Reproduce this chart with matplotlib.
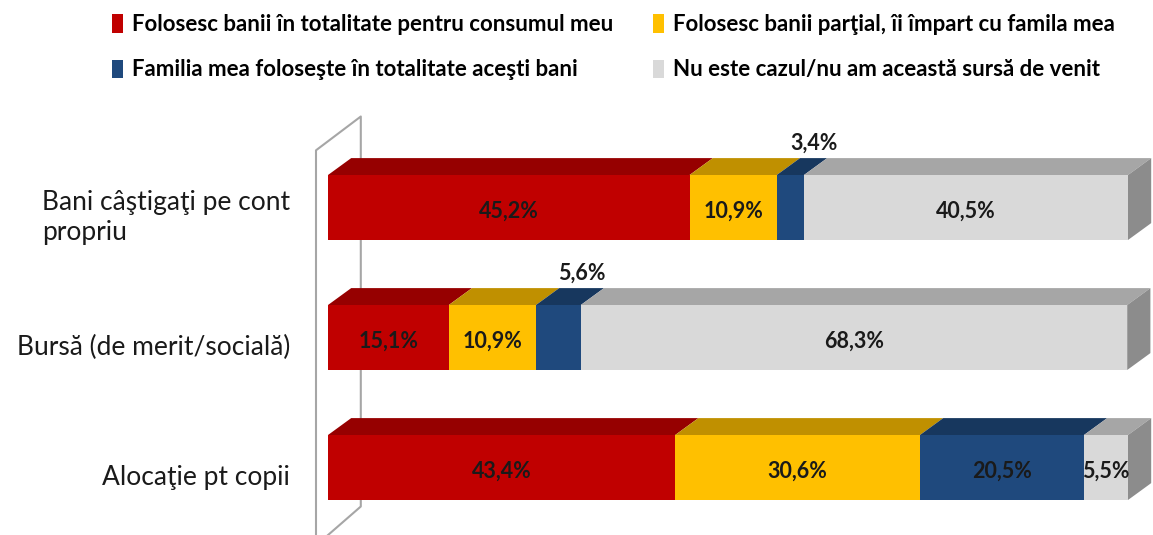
import numpy as np
import matplotlib.pyplot as plt
from matplotlib.patches import Polygon, Patch

plt.rcParams['font.family'] = ['Lato', 'DejaVu Sans']

categories = ["Bani câştigaţi pe cont\npropriu", "Bursă (de merit/socială)", "Alocaţie pt copii"]
series = [
    "Folosesc banii în totalitate pentru consumul meu",
    "Folosesc banii parţial, îi împart cu famila mea",
    "Familia mea foloseşte în totalitate aceşti bani",
    "Nu este cazul/nu am această sursă de venit",
]
consum_propriu = [45.2, 15.1, 43.4]
partial = [10.9, 10.9, 30.6]
familia = [3.4, 5.6, 20.5]
nu_este = [40.5, 68.3, 5.5]

front = ["#C00000", "#FFC000", "#1F497D", "#D9D9D9"]
top = ["#960000", "#C09000", "#17375E", "#A6A6A6"]
side = "#8C8C8C"

W, H = 1153, 535
fig = plt.figure(figsize=(W / 100, H / 100), dpi=100)
ax = fig.add_axes([0, 0, 1, 1])
# 8 px per percent, bar rows 130 px apart, first row centred at y=207.5 px
ax.set_xlim(-328 / 8, (W - 328) / 8)
ax.set_ylim((H - 207.5) / 130, -207.5 / 130)
ax.axis("off")

bar_h = 0.5
dx, dy = 2.9, 0.13   # depth of the 3d look, in data units

# back wall
wall_x0, wall_x1 = -1.5, 4.1
ax.plot([wall_x0, wall_x0, wall_x1, wall_x1, wall_x0],
        [2.6, -0.44, -0.70, 2.30, 2.6], color="#A6A6A6", lw=1.5, zorder=1)

values = [consum_propriu, partial, familia, nu_este]
y = np.arange(len(categories))
left = np.zeros(len(categories))
containers = []
for k, vals in enumerate(values):
    c = ax.barh(y, vals, left=left, height=bar_h, color=front[k], zorder=3)
    containers.append(c)
    left = left + np.array(vals)

for k, c in enumerate(containers):
    for i, p in enumerate(c.patches):
        x0, yb = p.get_x(), p.get_y()
        x1 = x0 + p.get_width()
        yt = yb  # smaller value = top because axis is inverted
        ax.add_patch(Polygon([(x0, yt), (x1, yt), (x1 + dx, yt - dy), (x0 + dx, yt - dy)],
                             closed=True, facecolor=top[k], edgecolor="none", zorder=2))
        if k == len(containers) - 1:
            yb2 = yb + p.get_height()
            ax.add_patch(Polygon([(x1, yt), (x1, yb2), (x1 + dx, yb2 - dy), (x1 + dx, yt - dy)],
                                 closed=True, facecolor=side, edgecolor="none", zorder=2))
        v = values[k][i]
        lab = f"{v:.1f}%".replace(".", ",")
        cx = x0 + p.get_width() / 2
        if k == 2 and v < 6:
            ax.text(cx + dx, yt - dy - 0.03, lab, ha="center", va="bottom",
                    fontsize=15.5, fontweight="bold", color="#1a1a1a", zorder=5)
        else:
            ax.text(cx, i + 0.03, lab, ha="center", va="center",
                    fontsize=15.5, fontweight="bold", color="#1a1a1a", zorder=5)

for i, cat in enumerate(categories):
    ax.text(-4.75, i + 0.08, cat, ha="right", va="center", multialignment="left",
            fontsize=19, color="#1a1a1a", linespacing=1.25)

handles = [Patch(facecolor=front[k], edgecolor="none") for k in range(4)]
order = [0, 2, 1, 3]  # legend fills column-wise; this gives row-wise reading
fig.legend([handles[j] for j in order], [series[j] for j in order],
           loc="upper left", bbox_to_anchor=(92 / W, 1 + 6 / H), ncol=2,
           frameon=False, prop={"size": 16, "weight": "bold"}, handlelength=0.5,
           handleheight=0.9, handletextpad=0.4, columnspacing=1.8, labelspacing=1.1)

fig.savefig("out.png", dpi=100)
